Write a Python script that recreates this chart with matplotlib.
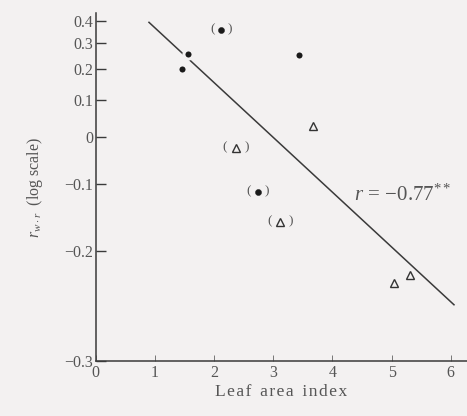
import numpy as np
import matplotlib
matplotlib.use("Agg")
import matplotlib.pyplot as plt

# data
dot_x = [1.46, 1.555, 3.43]
dot_r = [0.200, 0.256, 0.252]
dotp_x = [2.12, 2.74]
dotp_r = [0.357, -0.114]
tri_x = [3.68, 5.04, 5.32]
tri_r = [0.027, -0.236, -0.228]
trip_x = [2.37, 3.12]
trip_r = [-0.027, -0.161]
line_x = [0.90, 6.055]
line_r = [0.392, -0.257]
yticks = [0.4, 0.3, 0.2, 0.1, 0, -0.1, -0.2, -0.3]
ytick_labels = ["0.4", "0.3", "0.2", "0.1", "0", "\u22120.1", "\u22120.2", "\u22120.3"]
xticks = [0, 1, 2, 3, 4, 5, 6]
C = 0.41

def fwd(y):
    return np.log10(np.clip(np.asarray(y) + C, 1e-6, None))

def inv(v):
    return 10 ** np.asarray(v) - C

plt.rcParams['font.family'] = ['Liberation Serif', 'DejaVu Serif']
plt.rcParams['mathtext.fontset'] = 'custom'
plt.rcParams['mathtext.rm'] = 'Liberation Serif'
plt.rcParams['mathtext.it'] = 'Liberation Serif:italic'

bg = '#f3f1f1'
tc = '#555555'
lc = '#3a3a3a'

fig = plt.figure(figsize=(4.67, 4.16), dpi=100, facecolor=bg)
ax = fig.add_axes([0.205, 0.1322, 0.795, 0.836], facecolor=bg)
ax.set_yscale('function', functions=(fwd, inv))
ax.set_xlim(0, 6.275)
ax.set_ylim(-0.3, 0.436)

ax.plot(line_x, line_r, color=lc, lw=1.1, zorder=2)
ax.plot(dot_x, dot_r, 'o', mfc='#1a1a1a', ms=6.6, mec=bg, mew=2.2, zorder=3, ls='none')
ax.plot(dotp_x, dotp_r, 'o', mfc='#1a1a1a', mec='#1a1a1a', ms=4.4, mew=0.3, zorder=3, ls='none')
ax.plot(tri_x, tri_r, '^', mfc='none', mec='#333333', ms=6, mew=1.0, zorder=3, ls='none')
ax.plot(trip_x, trip_r, '^', mfc='none', mec='#333333', ms=6, mew=1.0, zorder=3, ls='none')

for xs, ys, off in [(dotp_x, dotp_r, 6.5), (trip_x, trip_r, 7.8)]:
    for x, y in zip(xs, ys):
        ax.annotate('(', (x, y), xytext=(-off, 0.5), textcoords='offset points',
                    ha='center', va='center', fontsize=9.5, color=tc)
        ax.annotate(')', (x, y), xytext=(off, 0.5), textcoords='offset points',
                    ha='center', va='center', fontsize=9.5, color=tc)

ax.text(4.365, -0.1187, r'$\mathit{r}\,=\,\mathrm{-0.77}^{**}$', fontsize=15,
        color=tc, ha='left', va='center')

for s in ['top', 'right']:
    ax.spines[s].set_visible(False)
for s in ['left', 'bottom']:
    ax.spines[s].set_color(lc)
    ax.spines[s].set_linewidth(1.1)

ax.set_yticks(yticks)
ax.set_yticklabels(ytick_labels)
ax.yaxis.set_minor_locator(matplotlib.ticker.NullLocator())
ax.set_xticks(xticks)
ax.tick_params(axis='y', direction='in', length=7, width=1, color=lc,
               labelsize=11.5, labelcolor=tc, pad=2)
ax.tick_params(axis='x', direction='in', length=4, width=0.7, color='#777777',
               labelsize=11.5, labelcolor=tc, pad=3)

ax.set_xlabel('L e a f   a r e a   i n d e x'.replace('   ', '\u2002').replace(' ', '\u200a'),
              fontsize=12.5, color=tc, labelpad=2)
ax.set_ylabel(r'$r_{w\cdot r}$  (log scale)', fontsize=11.5, color=tc, labelpad=14)

fig.savefig('out.png', dpi=100, facecolor=bg)
